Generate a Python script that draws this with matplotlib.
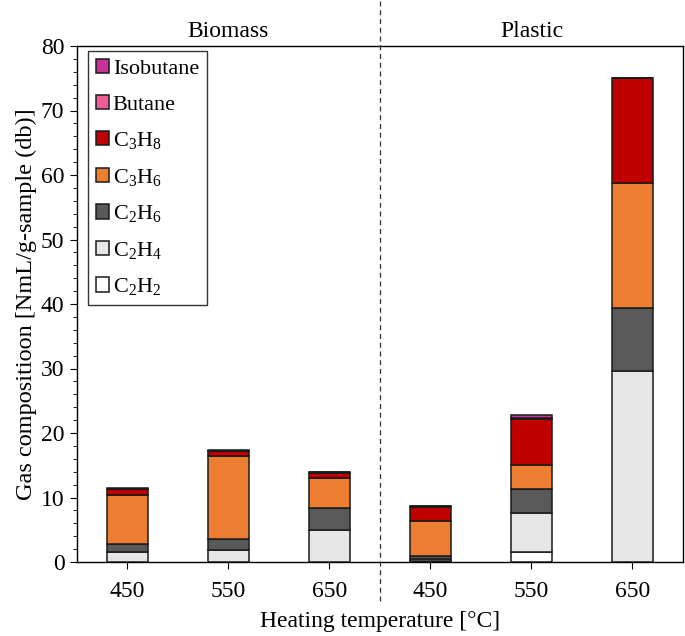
import matplotlib
matplotlib.use("Agg")
import matplotlib.pyplot as plt
import numpy as np

plt.rcParams['font.family'] = ['Liberation Serif', 'DejaVu Serif']
plt.rcParams['mathtext.fontset'] = 'custom'
plt.rcParams['mathtext.rm'] = 'Liberation Serif'
plt.rcParams['mathtext.it'] = 'Liberation Serif:italic'

temps = ['450', '550', '650', '450', '550', '650']
groups = ['Biomass', 'Plastic']
species = ['C$_2$H$_2$', 'C$_2$H$_4$', 'C$_2$H$_6$', 'C$_3$H$_6$', 'C$_3$H$_8$', 'Butane', 'Isobutane']
C2H2 = [0.0, 0.0, 0.0, 0.1, 1.6, 0.0]
C2H4 = [1.5, 1.8, 5.0, 0.3, 6.05, 29.6]
C2H6 = [1.3, 1.7, 3.4, 0.6, 3.6, 9.8]
C3H6 = [7.6, 13.0, 4.6, 5.4, 3.8, 19.3]
C3H8 = [0.9, 0.7, 0.85, 2.2, 7.1, 16.3]
Butane = [0.05, 0.05, 0.05, 0.05, 0.15, 0.0]
Isobutane = [0.05, 0.05, 0.05, 0.05, 0.55, 0.0]
series = [C2H2, C2H4, C2H6, C3H6, C3H8, Butane, Isobutane]
colors = ['#ffffff', '#e6e6e6', '#595959', '#ed7d31', '#c00000', '#f25c96', '#c8309a']

fig = plt.figure(figsize=(6.85, 6.36), dpi=100)
ax = fig.add_axes([77/685, 1 - 562/636, 606/685, 516/636])

x = np.arange(len(temps))
bottom = np.zeros(len(temps))
handles = []
for vals, c, lab in zip(series, colors, species):
    b = ax.bar(x, vals, 0.4, bottom=bottom, color=c, edgecolor='#1a1a1a', linewidth=1.1, label=lab, zorder=3)
    handles.append(b)
    bottom += np.array(vals)

ax.set_xlim(-0.5, 5.5)
ax.set_ylim(0, 80)
ax.set_xticks(x)
ax.set_xticklabels(temps)
ax.set_yticks(np.arange(0, 81, 10))
ax.set_yticks(np.arange(0, 81, 2), minor=True)
ax.tick_params(axis='both', labelsize=17, direction='out')
ax.tick_params(axis='y', which='major', length=5, pad=4)
ax.tick_params(axis='y', which='minor', length=3)
ax.tick_params(axis='x', which='major', length=5, pad=9)
for s in ax.spines.values():
    s.set_linewidth(1.0)

ax.set_xlabel('Heating temperature [°C]', fontsize=17, labelpad=6)
ax.set_ylabel('Gas compositioon [NmL/g-sample (db)]', fontsize=17.5, labelpad=3)

ax.axvline(2.5, ymin=-0.075, ymax=1.09, clip_on=False, ls=(0, (4, 3)), color='#333333', lw=0.9, zorder=5)
for i, g in enumerate(groups):
    ax.text(1 + 3 * i, 82.3, g, ha='center', va='center', fontsize=17)

leg = ax.legend(handles[::-1], species[::-1], loc='upper left', bbox_to_anchor=(0.018, 0.99),
                borderaxespad=0, fontsize=16, handlelength=0.62, handleheight=0.62,
                handletextpad=0.15, labelspacing=0.7, frameon=True, fancybox=False,
                borderpad=0.35)
leg.get_frame().set_edgecolor('black')
leg.get_frame().set_linewidth(1.0)

fig.savefig('out.png', dpi=100)
